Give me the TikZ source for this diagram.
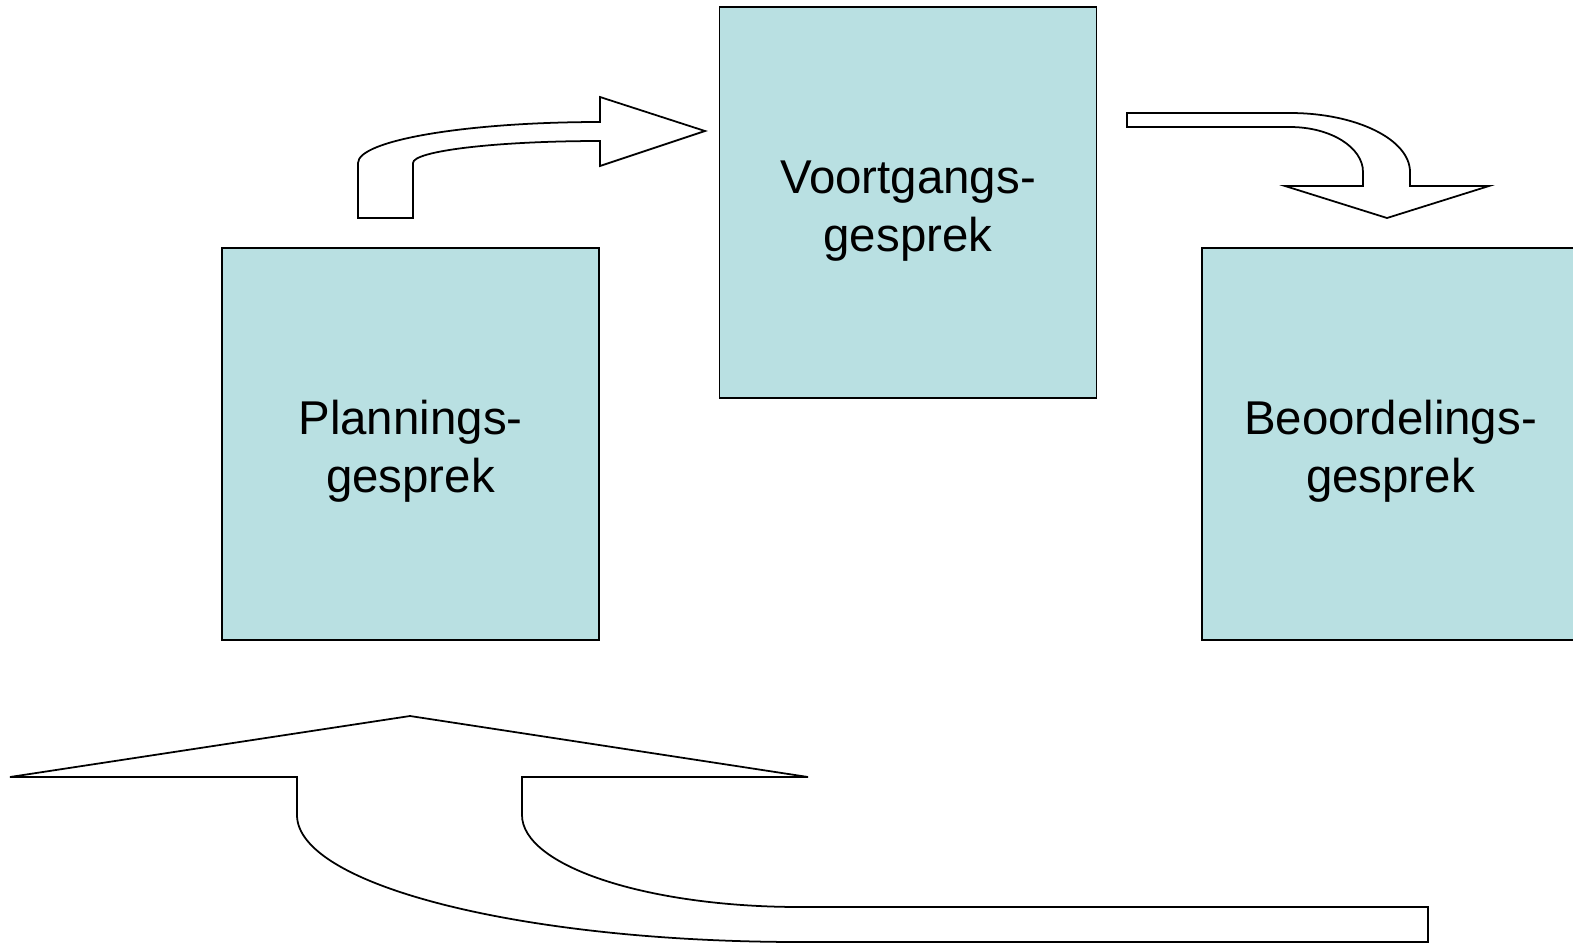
\documentclass[tikz,border=0pt]{standalone}
\usepackage{fontspec}
\setmainfont{Liberation Sans}
\definecolor{boxblue}{RGB}{185,224,226}
\begin{document}
\begin{tikzpicture}[x=0.02cm,y=-0.02cm,
  talkbox/.style={draw=black,line width=0.8pt,fill=boxblue,minimum width=7.54cm,minimum height=7.84cm,inner sep=0pt,align=center,text height=61pt,font=\fontsize{27}{33}\selectfont},
  blockarrow/.style={draw=black,line width=1pt,fill=white,line join=miter}]
\useasboundingbox (0,0) rectangle (1573,944);
\clip (0,0) rectangle (1573,944);
% the three talks
\node[talkbox] (plan) at (410.5,444) {Plannings-\\gesprek};
\node[talkbox,minimum height=7.82cm] (voort) at (908,202.5) {Voortgangs-\\gesprek};
\node[talkbox] (beoord) at (1390.5,444) {Beoordelings-\\gesprek};
% bent arrow up and right
\draw[blockarrow] (358,218) -- (358,163)
  arc[start angle=180,end angle=270,x radius=242,y radius=41]
  -- (600,97) -- (705,131) -- (600,166) -- (600,141)
  arc[start angle=270,end angle=180,x radius=187,y radius=22]
  -- (413,218) -- cycle;
% bent arrow right and down
\draw[blockarrow] (1127,113) -- (1290,113)
  arc[start angle=270,end angle=360,x radius=120,y radius=59]
  -- (1410,186) -- (1489,186) -- (1387,218) -- (1285,186) -- (1363,186) -- (1363,172)
  arc[start angle=0,end angle=-90,x radius=73,y radius=45]
  -- (1127,127) -- cycle;
% u-turn back to the start
\draw[blockarrow] (410,716) -- (808,777) -- (522,777) -- (522,815)
  arc[start angle=180,end angle=90,x radius=278,y radius=92]
  -- (1428,907) -- (1428,942) -- (800,942)
  arc[start angle=90,end angle=180,x radius=503,y radius=127]
  -- (297,777) -- (10,777) -- cycle;
\end{tikzpicture}
\end{document}
